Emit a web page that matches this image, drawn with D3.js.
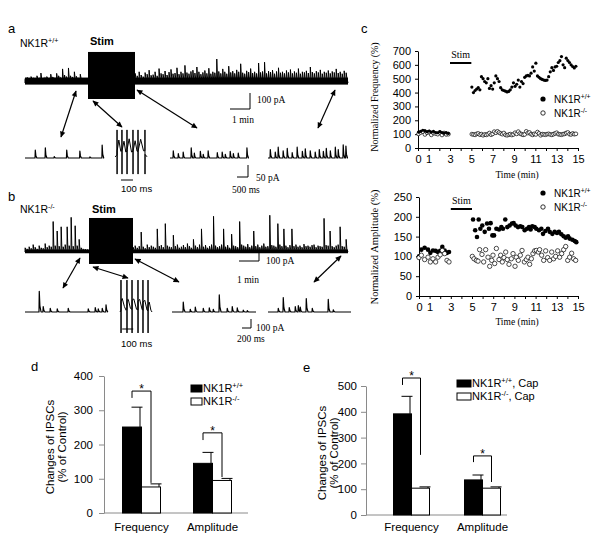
<!DOCTYPE html>
<html><head><meta charset="utf-8">
<script src="https://cdn.jsdelivr.net/npm/d3@7"></script>
<style>
body{margin:0;background:#fff}
svg{display:block;background:#fff}
</style></head><body>
<svg id="fig" width="600" height="540"></svg>
<script>
// ---------------- DATA ----------------
// Panel a/b main traces: spike amplitudes (pA), pre- and post-stimulation
const traceAPre = [28,35,22,40,30,25,45,30,62,28,35,40,30,55,38,32,60,45,35,88,50,40,94,45,38,70,42,30,55,25,20,18];
const traceAPost = [60,45,70,50,40,65,55,80,48,52,70,45,90,60,55,75,50,68,85,58,
 62,95,55,70,60,110,65,58,72,80,62,100,70,55,66,78,60,92,58,70,
 64,150,72,60,88,70,58,105,66,74,60,82,70,120,64,58,76,68,90,62,
 70,60,125,66,72,130,60,74,68,80,58,72,95,64,70,60,78,66,84,60,
 72,64,90,58,70,66,76,62,100,68,60,74,66,82,58,70,64,78,60,72,
 66,88,62,70,58,76,64];
const traceBPre = [40,30,50,35,70,45,30,60,40,35,80,45,60,50,290,60,200,55,240,50,70,240,60,330,55,250,60,120,40,30,25,20];
const traceBPost = [45,60,40,55,190,50,35,70,45,60, 50,40,220,55,65,45,270,60,50,45,
 160,55,70,40,50,65,45,80,55,40, 120,60,45,70,220,50,65,40,55,70,
 340,60,45,55,70,220,50,65,40,170, 60,55,45,290,70,60,50,75,45,60,
 200,55,70,45,60,80,50,55,350,65, 60,50,270,70,55,220,60,45,65,220,
 55,70,50,60,45,75,55,60,50,65, 70,45,60,55,50,320,65,60,200,55,
 45,60,70,240,55,50,120];
// Inset traces: events [time ms, amplitude pA]
const insetA1 = [[450,33],[900,42],[1300,6],[1860,33],[2450,29],[2900,5],[3450,54]];
const insetA3 = [[135,30],[360,18],[580,25],[940,42],[1080,20],[1350,28],[1480,15],[1700,30],[2110,22],[2330,25],[2470,15],[2690,28],[2830,18],[3050,20],[3440,42]];
const insetA4 = [[90,35],[310,25],[440,45],[660,30],[840,40],[1060,22],[1280,45],[1510,28],[1640,38],[1860,30],[2080,25],[2260,35],[2440,28],[2570,40],[2750,30],[2970,45],[3100,35],[3320,55],[3440,50]];
const insetB1 = [[312,230],[400,60],[557,40],[713,35],[958,40],[1404,35],[1560,50],[1627,35],[1716,40],[1800,80]];
const insetB3 = [[242,110],[396,30],[507,55],[683,40],[815,45],[903,30],[1035,190],[1211,40],[1321,60],[1431,45],[1564,20],[1652,15]];
const insetB4 = [[223,40],[334,160],[468,50],[602,60],[669,70],[713,55],[847,150],[981,40],[1337,140],[1449,25]];
// Burst traces during stimulation: vertices [time ms, pA]
const burstA = [[0,5],[12,10],[16.6,12],[17,117],[17.4,-67],[18,30],[32,75],[48,28],[57.6,30],[58,117],[58.4,-67],[59,32],[75,70],[90,25],[99.6,28],[100,117],[100.4,-67],[101,35],[118,80],[138,25],[149.6,28],[150,117],[150.4,-67],[151,30],[168,72],[184,28],[191.6,28],[192,117],[192.4,-67],[193,30],[214,78],[238,30],[249.6,30],[250,117],[250.4,-67],[251,15],[267,5]];
const burstB = [[0,0],[8.6,20],[9,355],[9.4,-233],[10,120],[20,150],[40,60],[55,20],[62.6,30],[63,355],[63.4,-233],[64,130],[75,140],[95,40],[108.6,30],[109,355],[109.4,-233],[110,130],[125,145],[150,30],[162.6,25],[163,355],[163.4,-233],[164,120],[178,140],[200,30],[207.6,20],[208,355],[208.4,-233],[209,110],[225,130],[245,20],[253.6,15],[254,355],[254.4,-233],[255,80],[265,110],[280,20],[290,0]];

// Panel c: normalized frequency (%)
const freqPreTime = [0.05,0.25,0.45,0.65,0.85,1.05,1.25,1.45,1.65,1.85,2.05,2.25,2.45,2.65,2.85];
const freqPreWT = [115,120,128,125,118,122,115,120,112,110,118,112,108,112,105];
const freqPreKO = [102,112,118,98,110,115,95,108,104,100,112,94,108,98,100];
const freqPostTime = [5.05,5.2,5.35,5.5,5.65,5.8,5.95,6.1,6.25,6.4,6.55,6.7,6.85,7.0,7.15,7.3,7.45,7.6,7.75,7.9,8.05,8.2,8.35,8.5,8.65,8.8,8.95,9.1,9.25,9.4,9.55,9.7,9.85,10.0,10.15,10.3,10.45,10.6,10.75,10.9,11.05,11.2,11.35,11.5,11.65,11.8,11.95,12.1,12.25,12.4,12.55,12.7,12.85,13.0,13.15,13.3,13.45,13.6,13.75,13.9,14.05,14.2,14.35,14.5,14.65,14.8];
const freqPostWT = [440,400,415,425,435,420,515,500,480,470,500,430,450,425,470,520,500,480,435,420,415,410,405,408,420,440,470,445,460,490,440,480,465,510,520,525,520,540,585,555,612,520,510,500,495,490,488,490,515,550,580,560,585,590,617,630,660,600,580,648,631,617,600,588,578,590];
const freqPostKO = [100,98,95,102,105,96,100,92,98,95,100,108,96,102,118,110,120,112,105,100,108,95,92,96,100,94,98,110,102,118,105,100,95,98,120,108,112,100,95,102,98,115,105,92,100,98,96,100,102,98,95,100,105,110,100,98,96,100,102,108,112,100,98,105,100,102];
// Panel c: normalized amplitude (%)
const ampPreTime = [0,0.22,0.53,0.85,1.07,1.32,1.57,1.79,2.0,2.2,2.42,2.64,2.83];
const ampPreWT = [100,117,122,117,109,115,114,111,114,124,115,109,111];
const ampPreKO = [97,103,92,98,86,94,86,98,104,115,107,90,86];
const ampPostTime = [5.1,5.3,5.47,5.63,5.79,5.97,6.2,6.42,6.6,6.76,6.92,7.08,7.3,7.55,7.77,7.92,8.14,8.33,8.55,8.77,8.93,9.12,9.34,9.56,9.75,9.97,10.19,10.38,10.53,10.69,10.91,11.07,11.32,11.54,11.7,11.92,12.17,12.33,12.58,12.8,13.02,13.2,13.43,13.65,13.84,14.06,14.21,14.47,14.69,14.84];
const ampPostWT = [193,166,149,193,170,178,162,183,170,184,153,153,170,168,174,170,193,174,178,183,184,178,174,176,174,166,170,174,168,176,174,170,166,170,157,164,170,162,157,162,159,162,156,151,147,151,145,142,139,136];
const ampPostKOTime = [5.03,5.19,5.41,5.57,5.72,5.94,6.1,6.29,6.51,6.67,6.86,6.98,7.14,7.3,7.55,7.7,7.86,8.02,8.18,8.33,8.49,8.71,8.87,9.06,9.18,9.37,9.56,9.72,9.94,10.13,10.28,10.44,10.6,10.75,10.91,11.07,11.26,11.38,11.57,11.76,11.95,12.14,12.33,12.52,12.7,12.89,13.08,13.27,13.46,13.65,13.84,14.03,14.21,14.4,14.59,14.78];
const ampPostKO = [100,94,90,88,117,105,86,117,98,75,90,103,82,120,92,103,86,97,111,92,80,94,107,75,98,90,103,115,86,92,98,80,94,107,114,115,111,117,103,90,114,97,90,111,94,100,114,98,107,117,125,90,98,108,94,90];
const timeTicks = [0,1,2,3,4,5,6,7,8,9,10,11,12,13,14,15];
const freqTicks = [0,100,200,300,400,500,600,700];
const ampTicks = [0,50,100,150,200,250];

// Panels d, e: bar charts
const categories = ["Frequency","Amplitude"];
const dWT = [251,145], dWTerr = [58,32];
const dKO = [76,95], dKOerr = [9,6];
const dTicks = [0,100,200,300,400];
const eWT = [392,136], eWTerr = [68,19];
const eKO = [104,104], eKOerr = [5,5];
const eTicks = [0,100,200,300,400,500];
// significance brackets: [top, left arm end, right arm end] in data units
const dSig = [[356,336,88],[234,213,105]];
const eSig = [[531,504,233],[229,205,128]];

// ---------------- DRAWING ----------------
const SANS = "Arial, 'Liberation Sans', sans-serif";
const SERIF = "'Times New Roman', 'Liberation Serif', serif";
const svg = d3.select("#fig");
const defs = svg.append("defs");
defs.append("marker").attr("id","ah").attr("viewBox","0 0 10 10").attr("refX",9).attr("refY",5)
  .attr("markerUnits","userSpaceOnUse").attr("markerWidth",7).attr("markerHeight",6)
  .attr("orient","auto-start-reverse")
  .append("path").attr("d","M0,0.5 L10,5 L0,9.5 z").attr("fill","#000");

function txt(g,x,y,s,o={}){
  const t=g.append("text").attr("x",x).attr("y",y)
    .attr("font-family",o.family||SANS).attr("font-size",o.size||11)
    .attr("text-anchor",o.anchor||"start").attr("fill","#000");
  if(o.weight) t.attr("font-weight",o.weight);
  if(o.rotate) t.attr("transform",`rotate(-90 ${x} ${y})`);
  t.text(s); return t;
}
function supTxt(g,x,y,base,sup,after,size,o={}){
  const t=g.append("text").attr("x",x).attr("y",y).attr("font-family",o.family||SANS)
    .attr("font-size",size).attr("fill","#000");
  t.append("tspan").text(base);
  t.append("tspan").attr("dy",-size*0.38).attr("font-size",size*0.68).text(sup);
  if(after) t.append("tspan").attr("dy",size*0.38).text(after);
  return t;
}
const line = (x,y)=>d3.line().x(d=>x(d[0])).y(d=>y(d[1]));

function mainTrace(g,pre,post,x,y,stim,tEnd,trough,box,band){
  const segs=[[pre,0,stim[0]],[post,stim[1],tEnd]];
  segs.forEach(([vals,t0,t1])=>{
    const d=(t1-t0)/vals.length;
    g.append("rect").attr("x",x(t0)).attr("width",x(t1)-x(t0))
      .attr("y",y(band)).attr("height",y(trough)-y(band)).attr("fill","#000");
    const p=[[t0,0]];
    vals.forEach((v,i)=>{const t=t0+i*d; p.push([t,band*0.6],[t+d*0.08,v],[t+d*0.45,band*0.9],[t+d*0.7,band*0.5]);});
    p.push([t1,0]);
    g.append("path").attr("d",line(x,y)(p)).attr("fill","none").attr("stroke","#000").attr("stroke-width",1);
  });
  g.append("rect").attr("x",x(stim[0])).attr("width",x(stim[1])-x(stim[0]))
    .attr("y",y(box[1])).attr("height",y(box[0])-y(box[1])).attr("fill","#000");
}
function eventPts(events,total,rise,decay){
  const p=[[0,0]];
  events.forEach(([t,a])=>{p.push([t,0],[t+rise,a],[t+rise+decay*0.35,a*0.3],[t+rise+decay,0]);});
  p.push([total,0]); return p;
}
function drawPath(g,pts,x,y,w){
  g.append("path").attr("d",line(x,y)(pts)).attr("fill","none").attr("stroke","#000")
   .attr("stroke-width",w||1.2).attr("stroke-linejoin","round");
}
function arrow(g,x1,y1,x2,y2){
  g.append("line").attr("x1",x1).attr("y1",y1).attr("x2",x2).attr("y2",y2)
   .attr("stroke","#000").attr("stroke-width",1.2)
   .attr("marker-start","url(#ah)").attr("marker-end","url(#ah)");
}
function scaleBar(g,xv,yTop,yBot,xLeft){
  g.append("path").attr("d",`M${xv},${yTop}V${yBot}H${xLeft}`).attr("fill","none").attr("stroke","#000").attr("stroke-width",1);
}

// ---------- Panel a ----------
const ga = svg.append("g");
txt(ga,8,33,"a",{size:13});
supTxt(ga,20,47,"NK1R","+/+",null,10.5);
txt(ga,90,45,"Stim",{size:11,weight:"bold"});
const xA = d3.scaleLinear().domain([0,16.15]).range([25,348]);
const yA = d3.scaleLinear().domain([0,100]).range([83,67]);
mainTrace(ga,traceAPre,traceAPost,xA,yA,[3.15,5.5],16.15,-10,[-100,194],34);
scaleBar(ga,xA(11.25),yA(-62.5),yA(-162.5),xA(10.25));
txt(ga,257,103,"100 pA",{family:SERIF,size:9.5});
txt(ga,232,123,"1 min",{family:SERIF,size:9.5});
arrow(ga,76,91,61,137); arrow(ga,93,101,122,127); arrow(ga,137,90,197,128); arrow(ga,335,90,318,128);
const yIa = d3.scaleLinear().domain([0,50]).range([158,146]);
drawPath(ga,eventPts(insetA1,3500,12,70),d3.scaleLinear().domain([0,3500]).range([25,103]),yIa);
drawPath(ga,eventPts(insetA3,3500,12,70),d3.scaleLinear().domain([0,3500]).range([170,248]),yIa);
drawPath(ga,eventPts(insetA4,3500,12,70),d3.scaleLinear().domain([0,3500]).range([268,347]),yIa);
const xBa = d3.scaleLinear().domain([0,267]).range([115,147]);
drawPath(ga,burstA,xBa,yIa,1);
scaleBar(ga,248,165,177,237);
txt(ga,256,181,"50 pA",{family:SERIF,size:9.5});
txt(ga,232,193,"500 ms",{family:SERIF,size:9.5});
ga.append("line").attr("x1",xBa(50)).attr("x2",xBa(150)).attr("y1",180).attr("y2",180).attr("stroke","#000");
txt(ga,121,192,"100 ms",{size:9.5});

// ---------- Panel b ----------
const gb = svg.append("g");
txt(gb,8,201,"b",{size:13});
supTxt(gb,20,213,"NK1R","-/-",null,10.5);
txt(gb,92,213,"Stim",{size:11,weight:"bold"});
const xB = d3.scaleLinear().domain([0,16.15]).range([25,348]);
const yB = d3.scaleLinear().domain([0,100]).range([252,241.5]);
mainTrace(gb,traceBPre,traceBPost,xB,yB,[3.2,5.4],16.15,-12,[-114,324],24);
scaleBar(gb,259,250,261,239);
txt(gb,266,264,"100 pA",{family:SERIF,size:9.5});
txt(gb,237,283,"1 min",{family:SERIF,size:9.5});
arrow(gb,80,258,63,288); arrow(gb,93,267,128,278); arrow(gb,135,259,179,282); arrow(gb,341,256,314,282);
const yIb = d3.scaleLinear().domain([0,100]).range([312,303]);
drawPath(gb,eventPts(insetB1,1850,6,40),d3.scaleLinear().domain([0,1850]).range([25,108]),yIb);
drawPath(gb,eventPts(insetB3,1850,6,40),d3.scaleLinear().domain([0,1850]).range([172,256]),yIb);
drawPath(gb,eventPts(insetB4,1850,6,40),d3.scaleLinear().domain([0,1850]).range([268,351]),yIb);
const xBb = d3.scaleLinear().domain([0,290]).range([120,152]);
drawPath(gb,burstB,xBb,yIb,1);
scaleBar(gb,251,319,328,242);
txt(gb,256,331,"100 pA",{family:SERIF,size:9.5});
txt(gb,237,342,"200 ms",{family:SERIF,size:9.5});
gb.append("line").attr("x1",xBb(20)).attr("x2",xBb(120)).attr("y1",329).attr("y2",329).attr("stroke","#000");
txt(gb,121,347,"100 ms",{size:9.5});

// ---------- Panel c ----------
const gc = svg.append("g");
txt(gc,361,33,"c",{size:13});
function styleAxis(g,color){
  g.attr("font-family",SANS).attr("font-size",11);
  g.selectAll("path.domain").attr("stroke",color);
  g.selectAll(".tick line").attr("stroke",color);
  g.selectAll(".tick text").attr("fill","#000");
}
function scatterPanel(g,x,y,yTicks,yTitle,yTitleSize,yTitleY,timeTitleY,stimY,legendY,rF,rO,series){
  const ya=g.append("g").attr("transform",`translate(${x(0)},0)`)
    .call(d3.axisLeft(y).tickValues(yTicks).tickSize(3).tickPadding(4).tickSizeOuter(0));
  styleAxis(ya,"#000");
  const xa=g.append("g").attr("transform",`translate(0,${y(0)})`)
    .call(d3.axisBottom(x).tickValues(timeTicks).tickSize(3).tickPadding(4).tickSizeOuter(0)
      .tickFormat(d=>(d===0||d%2===1)?d:""));
  styleAxis(xa,"#000");
  txt(g,378,yTitleY,yTitle,{family:SERIF,size:yTitleSize,anchor:"middle",rotate:true});
  txt(g,517,timeTitleY,"Time (min)",{family:SERIF,size:9.5,anchor:"middle"});
  g.append("line").attr("x1",x(3)).attr("x2",x(5)).attr("y1",stimY).attr("y2",stimY).attr("stroke","#000").attr("stroke-width",2);
  txt(g,x(4),stimY-5,"Stim",{family:SERIF,size:10,anchor:"middle"});
  series.forEach(s=>{
    const pts=s.t.map((t,i)=>[t,s.v[i]]);
    g.append("g").selectAll("circle").data(pts).join("circle")
      .attr("cx",d=>x(d[0])).attr("cy",d=>y(d[1]))
      .attr("r",s.filled?rF:rO).attr("fill",s.filled?"#000":"#fff")
      .attr("stroke","#000").attr("stroke-width",s.filled?0:0.7);
  });
  g.append("circle").attr("cx",543).attr("cy",legendY).attr("r",2.6).attr("fill","#000");
  g.append("circle").attr("cx",543).attr("cy",legendY+14).attr("r",2.2).attr("fill","#fff").attr("stroke","#000").attr("stroke-width",0.8);
  supTxt(g,554,legendY+4,"NK1R","+/+",null,10);
  supTxt(g,554,legendY+18,"NK1R","-/-",null,10);
}
const cx1 = d3.scaleLinear().domain([0,15]).range([418,578]);
const cy1 = d3.scaleLinear().domain([0,700]).range([148,51]);
scatterPanel(gc,cx1,cy1,freqTicks,"Normalized Frequency (%)",10,97,178,63,99,1.6,1.9,[
  {t:freqPreTime,v:freqPreKO,filled:false},
  {t:freqPreTime,v:freqPreWT,filled:true},
  {t:freqPostTime,v:freqPostKO,filled:false},
  {t:freqPostTime,v:freqPostWT,filled:true}]);
const cx2 = d3.scaleLinear().domain([0,15]).range([419,578]);
const cy2 = d3.scaleLinear().domain([0,250]).range([296,197]);
scatterPanel(gc,cx2,cy2,ampTicks,"Normalized Amplitude (%)",10.5,247,325,209,193,2.3,2.2,[
  {t:ampPreTime,v:ampPreWT,filled:true},
  {t:ampPreTime,v:ampPreKO,filled:false},
  {t:ampPostTime,v:ampPostWT,filled:true},
  {t:ampPostKOTime,v:ampPostKO,filled:false}]);

// ---------- Panels d, e ----------
function barPanel(g,o){
  const y=d3.scaleLinear().domain(o.domain).range(o.yRange);
  const x=d3.scaleBand().domain(categories).range(o.band);
  const ya=g.append("g").attr("transform",`translate(${o.axisX},0)`)
    .call(d3.axisLeft(y).tickValues(o.ticks).tickSize(5).tickPadding(o.pad).tickSizeOuter(0));
  styleAxis(ya,"#8a8a8a");
  ya.attr("font-size",11.5);
  g.append("line").attr("x1",o.axisX).attr("x2",o.axisEnd).attr("y1",y(0)).attr("y2",y(0)).attr("stroke","#8a8a8a");
  const bw=o.bw;
  const center=c=>x(c)+x.bandwidth()/2;
  [[o.wt,o.wtErr,"#000",-1],[o.ko,o.koErr,"#fff",0]].forEach(([vals,errs,fill,side])=>{
    categories.forEach((c,i)=>{
      const x0=center(c)+side*bw;
      const right=x0+bw;
      const wx=right-1.5;
      g.append("line").attr("x1",wx).attr("x2",wx).attr("y1",y(vals[i])).attr("y2",y(vals[i]+errs[i])).attr("stroke","#000");
      g.append("line").attr("x1",right-10).attr("x2",right+1).attr("y1",y(vals[i]+errs[i])).attr("y2",y(vals[i]+errs[i])).attr("stroke","#000");
      g.append("rect").attr("x",x0).attr("width",bw).attr("y",y(vals[i])).attr("height",y(0)-y(vals[i]))
        .attr("fill",fill).attr("stroke","#000").attr("stroke-width",1);
    });
  });
  categories.forEach((c,i)=>{
    const [top,l,r]=o.sig[i];
    const xl=center(c)-bw/2, xr=center(c)+bw/2;
    g.append("path").attr("d",`M${xl},${y(l)}V${y(top)}H${xr}V${y(r)}`).attr("fill","none").attr("stroke","#000").attr("stroke-width",1);
    txt(g,(xl+xr)/2,y(top)+2,"*",{size:12,anchor:"middle"});
    txt(g,center(c),531,c,{size:11.5,anchor:"middle"});
  });
  txt(g,o.lab1X,o.labY,"Changes of IPSCs",{size:11.5,anchor:"middle",rotate:true});
  txt(g,o.lab2X,o.labY,"(% of Control)",{size:11.5,anchor:"middle",rotate:true});
  const L=o.legend;
  g.append("rect").attr("x",L.x).attr("y",L.y).attr("width",L.w).attr("height",7).attr("fill","#000").attr("stroke","#000");
  g.append("rect").attr("x",L.x).attr("y",L.y+13).attr("width",L.w).attr("height",7).attr("fill","#fff").attr("stroke","#000");
  supTxt(g,L.x+L.w+1,L.y+7,"NK1R","+/+",L.suffix,11);
  supTxt(g,L.x+L.w+1,L.y+20,"NK1R","-/-",L.suffix,11);
}
const gd = svg.append("g");
txt(gd,31,371,"d",{size:13});
barPanel(gd,{domain:[0,400],yRange:[513,376],band:[106,248],axisX:104,axisEnd:248,ticks:dTicks,pad:6,bw:19,
  wt:dWT,wtErr:dWTerr,ko:dKO,koErr:dKOerr,sig:dSig,lab1X:54,lab2X:66,labY:447,
  legend:{x:191,y:385,w:11,suffix:null}});
const ge = svg.append("g");
txt(ge,303,372,"e",{size:13});
barPanel(ge,{domain:[0,500],yRange:[515,386],band:[376,518],axisX:366,axisEnd:507,ticks:eTicks,pad:4,bw:18,
  wt:eWT,wtErr:eWTerr,ko:eKO,koErr:eKOerr,sig:eSig,lab1X:326,lab2X:338,labY:453,
  legend:{x:457,y:380,w:14,suffix:", Cap"}});
</script>
</body></html>
